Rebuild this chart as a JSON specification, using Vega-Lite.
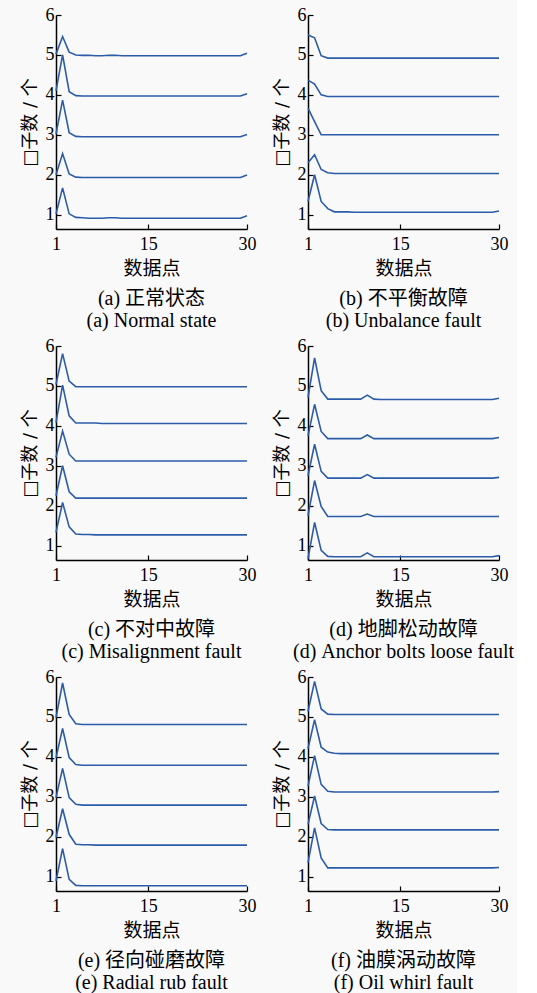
{
"$schema":"https://vega.github.io/schema/vega-lite/v6.json",
"background":"#f9f9f9",
"padding":{"left":21,"top":6,"right":0,"bottom":0},
"bounds":"flush",
"columns":2,
"spacing":{"row":117,"column":61},
"config":{
 "view":{"stroke":null},
 "axis":{"grid":false,"domainColor":"#000","domainWidth":1.5,"tickColor":"#000","tickSize":-5,"tickWidth":1.2,"labelFont":"Liberation Serif","labelFontSize":18,"labelColor":"#000","labelPadding":7,"labelFlush":false,"titleFont":"Liberation Serif, Noto Sans CJK SC","titleFontSize":19,"titleFontWeight":"normal","titleColor":"#000"},
 "axisY":{"titleFontSize":18,"titlePadding":6,"titleFont":"DejaVu Sans, Noto Sans CJK SC"},
 "axisX":{"titlePadding":6,"labelPadding":11},
 "title":{"font":"Liberation Serif, Noto Sans CJK SC","fontSize":20,"fontWeight":"normal","color":"#000","lineHeight":22,"offset":11,"orient":"bottom"}
},
"datasets":{
"a":[
{"line":1,"x":1,"y":1.02},{"line":1,"x":2,"y":1.67},{"line":1,"x":3,"y":1.02},{"line":1,"x":4,"y":0.93},{"line":1,"x":5,"y":0.92},{"line":1,"x":6,"y":0.91},{"line":1,"x":7,"y":0.91},{"line":1,"x":8,"y":0.91},{"line":1,"x":9,"y":0.92},{"line":1,"x":10,"y":0.92},{"line":1,"x":11,"y":0.91},{"line":1,"x":12,"y":0.91},{"line":1,"x":13,"y":0.91},{"line":1,"x":14,"y":0.91},{"line":1,"x":15,"y":0.91},{"line":1,"x":16,"y":0.91},{"line":1,"x":17,"y":0.91},{"line":1,"x":18,"y":0.91},{"line":1,"x":19,"y":0.91},{"line":1,"x":20,"y":0.91},{"line":1,"x":21,"y":0.91},{"line":1,"x":22,"y":0.91},{"line":1,"x":23,"y":0.91},{"line":1,"x":24,"y":0.91},{"line":1,"x":25,"y":0.91},{"line":1,"x":26,"y":0.91},{"line":1,"x":27,"y":0.91},{"line":1,"x":28,"y":0.91},{"line":1,"x":29,"y":0.91},{"line":1,"x":30,"y":0.97},
{"line":2,"x":1,"y":2.0},{"line":2,"x":2,"y":2.53},{"line":2,"x":3,"y":2.02},{"line":2,"x":4,"y":1.94},{"line":2,"x":5,"y":1.93},{"line":2,"x":6,"y":1.93},{"line":2,"x":7,"y":1.93},{"line":2,"x":8,"y":1.93},{"line":2,"x":9,"y":1.93},{"line":2,"x":10,"y":1.93},{"line":2,"x":11,"y":1.93},{"line":2,"x":12,"y":1.93},{"line":2,"x":13,"y":1.93},{"line":2,"x":14,"y":1.93},{"line":2,"x":15,"y":1.93},{"line":2,"x":16,"y":1.93},{"line":2,"x":17,"y":1.93},{"line":2,"x":18,"y":1.93},{"line":2,"x":19,"y":1.93},{"line":2,"x":20,"y":1.93},{"line":2,"x":21,"y":1.93},{"line":2,"x":22,"y":1.93},{"line":2,"x":23,"y":1.93},{"line":2,"x":24,"y":1.93},{"line":2,"x":25,"y":1.93},{"line":2,"x":26,"y":1.93},{"line":2,"x":27,"y":1.93},{"line":2,"x":28,"y":1.93},{"line":2,"x":29,"y":1.93},{"line":2,"x":30,"y":1.99},
{"line":3,"x":1,"y":3.02},{"line":3,"x":2,"y":3.87},{"line":3,"x":3,"y":3.05},{"line":3,"x":4,"y":2.96},{"line":3,"x":5,"y":2.95},{"line":3,"x":6,"y":2.95},{"line":3,"x":7,"y":2.95},{"line":3,"x":8,"y":2.95},{"line":3,"x":9,"y":2.95},{"line":3,"x":10,"y":2.95},{"line":3,"x":11,"y":2.95},{"line":3,"x":12,"y":2.95},{"line":3,"x":13,"y":2.95},{"line":3,"x":14,"y":2.95},{"line":3,"x":15,"y":2.95},{"line":3,"x":16,"y":2.95},{"line":3,"x":17,"y":2.95},{"line":3,"x":18,"y":2.95},{"line":3,"x":19,"y":2.95},{"line":3,"x":20,"y":2.95},{"line":3,"x":21,"y":2.95},{"line":3,"x":22,"y":2.95},{"line":3,"x":23,"y":2.95},{"line":3,"x":24,"y":2.95},{"line":3,"x":25,"y":2.95},{"line":3,"x":26,"y":2.95},{"line":3,"x":27,"y":2.95},{"line":3,"x":28,"y":2.95},{"line":3,"x":29,"y":2.95},{"line":3,"x":30,"y":3.01},
{"line":4,"x":1,"y":4.1},{"line":4,"x":2,"y":5.0},{"line":4,"x":3,"y":4.08},{"line":4,"x":4,"y":3.98},{"line":4,"x":5,"y":3.97},{"line":4,"x":6,"y":3.97},{"line":4,"x":7,"y":3.97},{"line":4,"x":8,"y":3.97},{"line":4,"x":9,"y":3.97},{"line":4,"x":10,"y":3.97},{"line":4,"x":11,"y":3.97},{"line":4,"x":12,"y":3.97},{"line":4,"x":13,"y":3.97},{"line":4,"x":14,"y":3.97},{"line":4,"x":15,"y":3.97},{"line":4,"x":16,"y":3.97},{"line":4,"x":17,"y":3.97},{"line":4,"x":18,"y":3.97},{"line":4,"x":19,"y":3.97},{"line":4,"x":20,"y":3.97},{"line":4,"x":21,"y":3.97},{"line":4,"x":22,"y":3.97},{"line":4,"x":23,"y":3.97},{"line":4,"x":24,"y":3.97},{"line":4,"x":25,"y":3.97},{"line":4,"x":26,"y":3.97},{"line":4,"x":27,"y":3.97},{"line":4,"x":28,"y":3.97},{"line":4,"x":29,"y":3.97},{"line":4,"x":30,"y":4.03},
{"line":5,"x":1,"y":5.02},{"line":5,"x":2,"y":5.46},{"line":5,"x":3,"y":5.07},{"line":5,"x":4,"y":5.0},{"line":5,"x":5,"y":4.99},{"line":5,"x":6,"y":4.99},{"line":5,"x":7,"y":4.98},{"line":5,"x":8,"y":4.98},{"line":5,"x":9,"y":4.99},{"line":5,"x":10,"y":4.99},{"line":5,"x":11,"y":4.98},{"line":5,"x":12,"y":4.98},{"line":5,"x":13,"y":4.98},{"line":5,"x":14,"y":4.98},{"line":5,"x":15,"y":4.98},{"line":5,"x":16,"y":4.98},{"line":5,"x":17,"y":4.98},{"line":5,"x":18,"y":4.98},{"line":5,"x":19,"y":4.98},{"line":5,"x":20,"y":4.98},{"line":5,"x":21,"y":4.98},{"line":5,"x":22,"y":4.98},{"line":5,"x":23,"y":4.98},{"line":5,"x":24,"y":4.98},{"line":5,"x":25,"y":4.98},{"line":5,"x":26,"y":4.98},{"line":5,"x":27,"y":4.98},{"line":5,"x":28,"y":4.98},{"line":5,"x":29,"y":4.98},{"line":5,"x":30,"y":5.04}
],
"b":[
{"line":1,"x":1,"y":1.33},{"line":1,"x":2,"y":2.0},{"line":1,"x":3,"y":1.33},{"line":1,"x":4,"y":1.15},{"line":1,"x":5,"y":1.07},{"line":1,"x":6,"y":1.07},{"line":1,"x":7,"y":1.07},{"line":1,"x":8,"y":1.06},{"line":1,"x":9,"y":1.06},{"line":1,"x":10,"y":1.06},{"line":1,"x":11,"y":1.06},{"line":1,"x":12,"y":1.06},{"line":1,"x":13,"y":1.06},{"line":1,"x":14,"y":1.06},{"line":1,"x":15,"y":1.06},{"line":1,"x":16,"y":1.06},{"line":1,"x":17,"y":1.06},{"line":1,"x":18,"y":1.06},{"line":1,"x":19,"y":1.06},{"line":1,"x":20,"y":1.06},{"line":1,"x":21,"y":1.06},{"line":1,"x":22,"y":1.06},{"line":1,"x":23,"y":1.06},{"line":1,"x":24,"y":1.06},{"line":1,"x":25,"y":1.06},{"line":1,"x":26,"y":1.06},{"line":1,"x":27,"y":1.06},{"line":1,"x":28,"y":1.06},{"line":1,"x":29,"y":1.06},{"line":1,"x":30,"y":1.09},
{"line":2,"x":1,"y":2.3},{"line":2,"x":2,"y":2.5},{"line":2,"x":3,"y":2.13},{"line":2,"x":4,"y":2.05},{"line":2,"x":5,"y":2.03},{"line":2,"x":6,"y":2.03},{"line":2,"x":7,"y":2.03},{"line":2,"x":8,"y":2.03},{"line":2,"x":9,"y":2.03},{"line":2,"x":10,"y":2.03},{"line":2,"x":11,"y":2.03},{"line":2,"x":12,"y":2.03},{"line":2,"x":13,"y":2.03},{"line":2,"x":14,"y":2.03},{"line":2,"x":15,"y":2.03},{"line":2,"x":16,"y":2.03},{"line":2,"x":17,"y":2.03},{"line":2,"x":18,"y":2.03},{"line":2,"x":19,"y":2.03},{"line":2,"x":20,"y":2.03},{"line":2,"x":21,"y":2.03},{"line":2,"x":22,"y":2.03},{"line":2,"x":23,"y":2.03},{"line":2,"x":24,"y":2.03},{"line":2,"x":25,"y":2.03},{"line":2,"x":26,"y":2.03},{"line":2,"x":27,"y":2.03},{"line":2,"x":28,"y":2.03},{"line":2,"x":29,"y":2.03},{"line":2,"x":30,"y":2.03},
{"line":3,"x":1,"y":3.67},{"line":3,"x":2,"y":3.33},{"line":3,"x":3,"y":3.0},{"line":3,"x":4,"y":3.0},{"line":3,"x":5,"y":3.0},{"line":3,"x":6,"y":3.0},{"line":3,"x":7,"y":3.0},{"line":3,"x":8,"y":3.0},{"line":3,"x":9,"y":3.0},{"line":3,"x":10,"y":3.0},{"line":3,"x":11,"y":3.0},{"line":3,"x":12,"y":3.0},{"line":3,"x":13,"y":3.0},{"line":3,"x":14,"y":3.0},{"line":3,"x":15,"y":3.0},{"line":3,"x":16,"y":3.0},{"line":3,"x":17,"y":3.0},{"line":3,"x":18,"y":3.0},{"line":3,"x":19,"y":3.0},{"line":3,"x":20,"y":3.0},{"line":3,"x":21,"y":3.0},{"line":3,"x":22,"y":3.0},{"line":3,"x":23,"y":3.0},{"line":3,"x":24,"y":3.0},{"line":3,"x":25,"y":3.0},{"line":3,"x":26,"y":3.0},{"line":3,"x":27,"y":3.0},{"line":3,"x":28,"y":3.0},{"line":3,"x":29,"y":3.0},{"line":3,"x":30,"y":3.0},
{"line":4,"x":1,"y":4.37},{"line":4,"x":2,"y":4.27},{"line":4,"x":3,"y":4.0},{"line":4,"x":4,"y":3.96},{"line":4,"x":5,"y":3.96},{"line":4,"x":6,"y":3.96},{"line":4,"x":7,"y":3.96},{"line":4,"x":8,"y":3.96},{"line":4,"x":9,"y":3.96},{"line":4,"x":10,"y":3.96},{"line":4,"x":11,"y":3.96},{"line":4,"x":12,"y":3.96},{"line":4,"x":13,"y":3.96},{"line":4,"x":14,"y":3.96},{"line":4,"x":15,"y":3.96},{"line":4,"x":16,"y":3.96},{"line":4,"x":17,"y":3.96},{"line":4,"x":18,"y":3.96},{"line":4,"x":19,"y":3.96},{"line":4,"x":20,"y":3.96},{"line":4,"x":21,"y":3.96},{"line":4,"x":22,"y":3.96},{"line":4,"x":23,"y":3.96},{"line":4,"x":24,"y":3.96},{"line":4,"x":25,"y":3.96},{"line":4,"x":26,"y":3.96},{"line":4,"x":27,"y":3.96},{"line":4,"x":28,"y":3.96},{"line":4,"x":29,"y":3.96},{"line":4,"x":30,"y":3.96},
{"line":5,"x":1,"y":5.5},{"line":5,"x":2,"y":5.43},{"line":5,"x":3,"y":4.98},{"line":5,"x":4,"y":4.92},{"line":5,"x":5,"y":4.92},{"line":5,"x":6,"y":4.92},{"line":5,"x":7,"y":4.92},{"line":5,"x":8,"y":4.92},{"line":5,"x":9,"y":4.92},{"line":5,"x":10,"y":4.92},{"line":5,"x":11,"y":4.92},{"line":5,"x":12,"y":4.92},{"line":5,"x":13,"y":4.92},{"line":5,"x":14,"y":4.92},{"line":5,"x":15,"y":4.92},{"line":5,"x":16,"y":4.92},{"line":5,"x":17,"y":4.92},{"line":5,"x":18,"y":4.92},{"line":5,"x":19,"y":4.92},{"line":5,"x":20,"y":4.92},{"line":5,"x":21,"y":4.92},{"line":5,"x":22,"y":4.92},{"line":5,"x":23,"y":4.92},{"line":5,"x":24,"y":4.92},{"line":5,"x":25,"y":4.92},{"line":5,"x":26,"y":4.92},{"line":5,"x":27,"y":4.92},{"line":5,"x":28,"y":4.92},{"line":5,"x":29,"y":4.92},{"line":5,"x":30,"y":4.92}
],
"c":[
{"line":1,"x":1,"y":1.33},{"line":1,"x":2,"y":2.08},{"line":1,"x":3,"y":1.47},{"line":1,"x":4,"y":1.29},{"line":1,"x":5,"y":1.28},{"line":1,"x":6,"y":1.28},{"line":1,"x":7,"y":1.27},{"line":1,"x":8,"y":1.27},{"line":1,"x":9,"y":1.27},{"line":1,"x":10,"y":1.27},{"line":1,"x":11,"y":1.27},{"line":1,"x":12,"y":1.27},{"line":1,"x":13,"y":1.27},{"line":1,"x":14,"y":1.27},{"line":1,"x":15,"y":1.27},{"line":1,"x":16,"y":1.27},{"line":1,"x":17,"y":1.27},{"line":1,"x":18,"y":1.27},{"line":1,"x":19,"y":1.27},{"line":1,"x":20,"y":1.27},{"line":1,"x":21,"y":1.27},{"line":1,"x":22,"y":1.27},{"line":1,"x":23,"y":1.27},{"line":1,"x":24,"y":1.27},{"line":1,"x":25,"y":1.27},{"line":1,"x":26,"y":1.27},{"line":1,"x":27,"y":1.27},{"line":1,"x":28,"y":1.27},{"line":1,"x":29,"y":1.27},{"line":1,"x":30,"y":1.27},
{"line":2,"x":1,"y":2.25},{"line":2,"x":2,"y":3.0},{"line":2,"x":3,"y":2.35},{"line":2,"x":4,"y":2.19},{"line":2,"x":5,"y":2.19},{"line":2,"x":6,"y":2.19},{"line":2,"x":7,"y":2.19},{"line":2,"x":8,"y":2.19},{"line":2,"x":9,"y":2.19},{"line":2,"x":10,"y":2.19},{"line":2,"x":11,"y":2.19},{"line":2,"x":12,"y":2.19},{"line":2,"x":13,"y":2.19},{"line":2,"x":14,"y":2.19},{"line":2,"x":15,"y":2.19},{"line":2,"x":16,"y":2.19},{"line":2,"x":17,"y":2.19},{"line":2,"x":18,"y":2.19},{"line":2,"x":19,"y":2.19},{"line":2,"x":20,"y":2.19},{"line":2,"x":21,"y":2.19},{"line":2,"x":22,"y":2.19},{"line":2,"x":23,"y":2.19},{"line":2,"x":24,"y":2.19},{"line":2,"x":25,"y":2.19},{"line":2,"x":26,"y":2.19},{"line":2,"x":27,"y":2.19},{"line":2,"x":28,"y":2.19},{"line":2,"x":29,"y":2.19},{"line":2,"x":30,"y":2.19},
{"line":3,"x":1,"y":3.21},{"line":3,"x":2,"y":3.87},{"line":3,"x":3,"y":3.29},{"line":3,"x":4,"y":3.12},{"line":3,"x":5,"y":3.12},{"line":3,"x":6,"y":3.12},{"line":3,"x":7,"y":3.12},{"line":3,"x":8,"y":3.12},{"line":3,"x":9,"y":3.12},{"line":3,"x":10,"y":3.12},{"line":3,"x":11,"y":3.12},{"line":3,"x":12,"y":3.12},{"line":3,"x":13,"y":3.12},{"line":3,"x":14,"y":3.12},{"line":3,"x":15,"y":3.12},{"line":3,"x":16,"y":3.12},{"line":3,"x":17,"y":3.12},{"line":3,"x":18,"y":3.12},{"line":3,"x":19,"y":3.12},{"line":3,"x":20,"y":3.12},{"line":3,"x":21,"y":3.12},{"line":3,"x":22,"y":3.12},{"line":3,"x":23,"y":3.12},{"line":3,"x":24,"y":3.12},{"line":3,"x":25,"y":3.12},{"line":3,"x":26,"y":3.12},{"line":3,"x":27,"y":3.12},{"line":3,"x":28,"y":3.12},{"line":3,"x":29,"y":3.12},{"line":3,"x":30,"y":3.12},
{"line":4,"x":1,"y":4.08},{"line":4,"x":2,"y":5.02},{"line":4,"x":3,"y":4.25},{"line":4,"x":4,"y":4.07},{"line":4,"x":5,"y":4.07},{"line":4,"x":6,"y":4.07},{"line":4,"x":7,"y":4.07},{"line":4,"x":8,"y":4.06},{"line":4,"x":9,"y":4.06},{"line":4,"x":10,"y":4.06},{"line":4,"x":11,"y":4.06},{"line":4,"x":12,"y":4.06},{"line":4,"x":13,"y":4.06},{"line":4,"x":14,"y":4.06},{"line":4,"x":15,"y":4.06},{"line":4,"x":16,"y":4.06},{"line":4,"x":17,"y":4.06},{"line":4,"x":18,"y":4.06},{"line":4,"x":19,"y":4.06},{"line":4,"x":20,"y":4.06},{"line":4,"x":21,"y":4.06},{"line":4,"x":22,"y":4.06},{"line":4,"x":23,"y":4.06},{"line":4,"x":24,"y":4.06},{"line":4,"x":25,"y":4.06},{"line":4,"x":26,"y":4.06},{"line":4,"x":27,"y":4.06},{"line":4,"x":28,"y":4.06},{"line":4,"x":29,"y":4.06},{"line":4,"x":30,"y":4.06},
{"line":5,"x":1,"y":5.04},{"line":5,"x":2,"y":5.81},{"line":5,"x":3,"y":5.12},{"line":5,"x":4,"y":4.98},{"line":5,"x":5,"y":4.98},{"line":5,"x":6,"y":4.98},{"line":5,"x":7,"y":4.98},{"line":5,"x":8,"y":4.98},{"line":5,"x":9,"y":4.98},{"line":5,"x":10,"y":4.98},{"line":5,"x":11,"y":4.98},{"line":5,"x":12,"y":4.98},{"line":5,"x":13,"y":4.98},{"line":5,"x":14,"y":4.98},{"line":5,"x":15,"y":4.98},{"line":5,"x":16,"y":4.98},{"line":5,"x":17,"y":4.98},{"line":5,"x":18,"y":4.98},{"line":5,"x":19,"y":4.98},{"line":5,"x":20,"y":4.98},{"line":5,"x":21,"y":4.98},{"line":5,"x":22,"y":4.98},{"line":5,"x":23,"y":4.98},{"line":5,"x":24,"y":4.98},{"line":5,"x":25,"y":4.98},{"line":5,"x":26,"y":4.98},{"line":5,"x":27,"y":4.98},{"line":5,"x":28,"y":4.98},{"line":5,"x":29,"y":4.98},{"line":5,"x":30,"y":4.98}
],
"d":[
{"line":1,"x":1,"y":0.67},{"line":1,"x":2,"y":1.58},{"line":1,"x":3,"y":0.88},{"line":1,"x":4,"y":0.73},{"line":1,"x":5,"y":0.72},{"line":1,"x":6,"y":0.72},{"line":1,"x":7,"y":0.72},{"line":1,"x":8,"y":0.72},{"line":1,"x":9,"y":0.72},{"line":1,"x":10,"y":0.82},{"line":1,"x":11,"y":0.72},{"line":1,"x":12,"y":0.72},{"line":1,"x":13,"y":0.72},{"line":1,"x":14,"y":0.72},{"line":1,"x":15,"y":0.72},{"line":1,"x":16,"y":0.72},{"line":1,"x":17,"y":0.72},{"line":1,"x":18,"y":0.72},{"line":1,"x":19,"y":0.72},{"line":1,"x":20,"y":0.72},{"line":1,"x":21,"y":0.72},{"line":1,"x":22,"y":0.72},{"line":1,"x":23,"y":0.72},{"line":1,"x":24,"y":0.72},{"line":1,"x":25,"y":0.72},{"line":1,"x":26,"y":0.72},{"line":1,"x":27,"y":0.72},{"line":1,"x":28,"y":0.72},{"line":1,"x":29,"y":0.72},{"line":1,"x":30,"y":0.75},
{"line":2,"x":1,"y":1.75},{"line":2,"x":2,"y":2.63},{"line":2,"x":3,"y":1.98},{"line":2,"x":4,"y":1.73},{"line":2,"x":5,"y":1.73},{"line":2,"x":6,"y":1.73},{"line":2,"x":7,"y":1.73},{"line":2,"x":8,"y":1.73},{"line":2,"x":9,"y":1.73},{"line":2,"x":10,"y":1.79},{"line":2,"x":11,"y":1.73},{"line":2,"x":12,"y":1.73},{"line":2,"x":13,"y":1.73},{"line":2,"x":14,"y":1.73},{"line":2,"x":15,"y":1.73},{"line":2,"x":16,"y":1.73},{"line":2,"x":17,"y":1.73},{"line":2,"x":18,"y":1.73},{"line":2,"x":19,"y":1.73},{"line":2,"x":20,"y":1.73},{"line":2,"x":21,"y":1.73},{"line":2,"x":22,"y":1.73},{"line":2,"x":23,"y":1.73},{"line":2,"x":24,"y":1.73},{"line":2,"x":25,"y":1.73},{"line":2,"x":26,"y":1.73},{"line":2,"x":27,"y":1.73},{"line":2,"x":28,"y":1.73},{"line":2,"x":29,"y":1.73},{"line":2,"x":30,"y":1.73},
{"line":3,"x":1,"y":2.75},{"line":3,"x":2,"y":3.54},{"line":3,"x":3,"y":2.86},{"line":3,"x":4,"y":2.69},{"line":3,"x":5,"y":2.69},{"line":3,"x":6,"y":2.69},{"line":3,"x":7,"y":2.69},{"line":3,"x":8,"y":2.69},{"line":3,"x":9,"y":2.69},{"line":3,"x":10,"y":2.78},{"line":3,"x":11,"y":2.69},{"line":3,"x":12,"y":2.69},{"line":3,"x":13,"y":2.69},{"line":3,"x":14,"y":2.69},{"line":3,"x":15,"y":2.69},{"line":3,"x":16,"y":2.69},{"line":3,"x":17,"y":2.69},{"line":3,"x":18,"y":2.69},{"line":3,"x":19,"y":2.69},{"line":3,"x":20,"y":2.69},{"line":3,"x":21,"y":2.69},{"line":3,"x":22,"y":2.69},{"line":3,"x":23,"y":2.69},{"line":3,"x":24,"y":2.69},{"line":3,"x":25,"y":2.69},{"line":3,"x":26,"y":2.69},{"line":3,"x":27,"y":2.69},{"line":3,"x":28,"y":2.69},{"line":3,"x":29,"y":2.69},{"line":3,"x":30,"y":2.71},
{"line":4,"x":1,"y":3.75},{"line":4,"x":2,"y":4.54},{"line":4,"x":3,"y":3.86},{"line":4,"x":4,"y":3.68},{"line":4,"x":5,"y":3.68},{"line":4,"x":6,"y":3.68},{"line":4,"x":7,"y":3.68},{"line":4,"x":8,"y":3.68},{"line":4,"x":9,"y":3.68},{"line":4,"x":10,"y":3.77},{"line":4,"x":11,"y":3.68},{"line":4,"x":12,"y":3.68},{"line":4,"x":13,"y":3.68},{"line":4,"x":14,"y":3.68},{"line":4,"x":15,"y":3.68},{"line":4,"x":16,"y":3.68},{"line":4,"x":17,"y":3.68},{"line":4,"x":18,"y":3.68},{"line":4,"x":19,"y":3.68},{"line":4,"x":20,"y":3.68},{"line":4,"x":21,"y":3.68},{"line":4,"x":22,"y":3.68},{"line":4,"x":23,"y":3.68},{"line":4,"x":24,"y":3.68},{"line":4,"x":25,"y":3.68},{"line":4,"x":26,"y":3.68},{"line":4,"x":27,"y":3.68},{"line":4,"x":28,"y":3.68},{"line":4,"x":29,"y":3.68},{"line":4,"x":30,"y":3.71},
{"line":5,"x":1,"y":4.71},{"line":5,"x":2,"y":5.7},{"line":5,"x":3,"y":4.88},{"line":5,"x":4,"y":4.67},{"line":5,"x":5,"y":4.67},{"line":5,"x":6,"y":4.67},{"line":5,"x":7,"y":4.67},{"line":5,"x":8,"y":4.67},{"line":5,"x":9,"y":4.67},{"line":5,"x":10,"y":4.77},{"line":5,"x":11,"y":4.67},{"line":5,"x":12,"y":4.66},{"line":5,"x":13,"y":4.66},{"line":5,"x":14,"y":4.66},{"line":5,"x":15,"y":4.66},{"line":5,"x":16,"y":4.66},{"line":5,"x":17,"y":4.66},{"line":5,"x":18,"y":4.66},{"line":5,"x":19,"y":4.66},{"line":5,"x":20,"y":4.66},{"line":5,"x":21,"y":4.66},{"line":5,"x":22,"y":4.66},{"line":5,"x":23,"y":4.66},{"line":5,"x":24,"y":4.66},{"line":5,"x":25,"y":4.66},{"line":5,"x":26,"y":4.66},{"line":5,"x":27,"y":4.66},{"line":5,"x":28,"y":4.66},{"line":5,"x":29,"y":4.66},{"line":5,"x":30,"y":4.69}
],
"e":[
{"line":1,"x":1,"y":0.89},{"line":1,"x":2,"y":1.7},{"line":1,"x":3,"y":0.93},{"line":1,"x":4,"y":0.78},{"line":1,"x":5,"y":0.77},{"line":1,"x":6,"y":0.77},{"line":1,"x":7,"y":0.77},{"line":1,"x":8,"y":0.77},{"line":1,"x":9,"y":0.77},{"line":1,"x":10,"y":0.77},{"line":1,"x":11,"y":0.77},{"line":1,"x":12,"y":0.77},{"line":1,"x":13,"y":0.77},{"line":1,"x":14,"y":0.77},{"line":1,"x":15,"y":0.77},{"line":1,"x":16,"y":0.77},{"line":1,"x":17,"y":0.77},{"line":1,"x":18,"y":0.77},{"line":1,"x":19,"y":0.77},{"line":1,"x":20,"y":0.77},{"line":1,"x":21,"y":0.77},{"line":1,"x":22,"y":0.77},{"line":1,"x":23,"y":0.77},{"line":1,"x":24,"y":0.77},{"line":1,"x":25,"y":0.77},{"line":1,"x":26,"y":0.77},{"line":1,"x":27,"y":0.77},{"line":1,"x":28,"y":0.77},{"line":1,"x":29,"y":0.77},{"line":1,"x":30,"y":0.77},
{"line":2,"x":1,"y":1.98},{"line":2,"x":2,"y":2.7},{"line":2,"x":3,"y":2.06},{"line":2,"x":4,"y":1.81},{"line":2,"x":5,"y":1.8},{"line":2,"x":6,"y":1.8},{"line":2,"x":7,"y":1.79},{"line":2,"x":8,"y":1.79},{"line":2,"x":9,"y":1.79},{"line":2,"x":10,"y":1.79},{"line":2,"x":11,"y":1.79},{"line":2,"x":12,"y":1.79},{"line":2,"x":13,"y":1.79},{"line":2,"x":14,"y":1.79},{"line":2,"x":15,"y":1.79},{"line":2,"x":16,"y":1.79},{"line":2,"x":17,"y":1.79},{"line":2,"x":18,"y":1.79},{"line":2,"x":19,"y":1.79},{"line":2,"x":20,"y":1.79},{"line":2,"x":21,"y":1.79},{"line":2,"x":22,"y":1.79},{"line":2,"x":23,"y":1.79},{"line":2,"x":24,"y":1.79},{"line":2,"x":25,"y":1.79},{"line":2,"x":26,"y":1.79},{"line":2,"x":27,"y":1.79},{"line":2,"x":28,"y":1.79},{"line":2,"x":29,"y":1.79},{"line":2,"x":30,"y":1.79},
{"line":3,"x":1,"y":2.98},{"line":3,"x":2,"y":3.71},{"line":3,"x":3,"y":2.98},{"line":3,"x":4,"y":2.81},{"line":3,"x":5,"y":2.79},{"line":3,"x":6,"y":2.79},{"line":3,"x":7,"y":2.79},{"line":3,"x":8,"y":2.79},{"line":3,"x":9,"y":2.79},{"line":3,"x":10,"y":2.79},{"line":3,"x":11,"y":2.79},{"line":3,"x":12,"y":2.79},{"line":3,"x":13,"y":2.79},{"line":3,"x":14,"y":2.79},{"line":3,"x":15,"y":2.79},{"line":3,"x":16,"y":2.79},{"line":3,"x":17,"y":2.79},{"line":3,"x":18,"y":2.79},{"line":3,"x":19,"y":2.79},{"line":3,"x":20,"y":2.79},{"line":3,"x":21,"y":2.79},{"line":3,"x":22,"y":2.79},{"line":3,"x":23,"y":2.79},{"line":3,"x":24,"y":2.79},{"line":3,"x":25,"y":2.79},{"line":3,"x":26,"y":2.79},{"line":3,"x":27,"y":2.79},{"line":3,"x":28,"y":2.79},{"line":3,"x":29,"y":2.79},{"line":3,"x":30,"y":2.79},
{"line":4,"x":1,"y":3.98},{"line":4,"x":2,"y":4.71},{"line":4,"x":3,"y":3.98},{"line":4,"x":4,"y":3.81},{"line":4,"x":5,"y":3.79},{"line":4,"x":6,"y":3.79},{"line":4,"x":7,"y":3.79},{"line":4,"x":8,"y":3.79},{"line":4,"x":9,"y":3.79},{"line":4,"x":10,"y":3.79},{"line":4,"x":11,"y":3.79},{"line":4,"x":12,"y":3.79},{"line":4,"x":13,"y":3.79},{"line":4,"x":14,"y":3.79},{"line":4,"x":15,"y":3.79},{"line":4,"x":16,"y":3.79},{"line":4,"x":17,"y":3.79},{"line":4,"x":18,"y":3.79},{"line":4,"x":19,"y":3.79},{"line":4,"x":20,"y":3.79},{"line":4,"x":21,"y":3.79},{"line":4,"x":22,"y":3.79},{"line":4,"x":23,"y":3.79},{"line":4,"x":24,"y":3.79},{"line":4,"x":25,"y":3.79},{"line":4,"x":26,"y":3.79},{"line":4,"x":27,"y":3.79},{"line":4,"x":28,"y":3.79},{"line":4,"x":29,"y":3.79},{"line":4,"x":30,"y":3.79},
{"line":5,"x":1,"y":4.98},{"line":5,"x":2,"y":5.85},{"line":5,"x":3,"y":5.06},{"line":5,"x":4,"y":4.83},{"line":5,"x":5,"y":4.81},{"line":5,"x":6,"y":4.81},{"line":5,"x":7,"y":4.81},{"line":5,"x":8,"y":4.81},{"line":5,"x":9,"y":4.81},{"line":5,"x":10,"y":4.81},{"line":5,"x":11,"y":4.81},{"line":5,"x":12,"y":4.81},{"line":5,"x":13,"y":4.81},{"line":5,"x":14,"y":4.81},{"line":5,"x":15,"y":4.81},{"line":5,"x":16,"y":4.81},{"line":5,"x":17,"y":4.81},{"line":5,"x":18,"y":4.81},{"line":5,"x":19,"y":4.81},{"line":5,"x":20,"y":4.81},{"line":5,"x":21,"y":4.81},{"line":5,"x":22,"y":4.81},{"line":5,"x":23,"y":4.81},{"line":5,"x":24,"y":4.81},{"line":5,"x":25,"y":4.81},{"line":5,"x":26,"y":4.81},{"line":5,"x":27,"y":4.81},{"line":5,"x":28,"y":4.81},{"line":5,"x":29,"y":4.81},{"line":5,"x":30,"y":4.81}
],
"f":[
{"line":1,"x":1,"y":1.35},{"line":1,"x":2,"y":2.22},{"line":1,"x":3,"y":1.47},{"line":1,"x":4,"y":1.22},{"line":1,"x":5,"y":1.22},{"line":1,"x":6,"y":1.22},{"line":1,"x":7,"y":1.22},{"line":1,"x":8,"y":1.22},{"line":1,"x":9,"y":1.22},{"line":1,"x":10,"y":1.22},{"line":1,"x":11,"y":1.22},{"line":1,"x":12,"y":1.22},{"line":1,"x":13,"y":1.22},{"line":1,"x":14,"y":1.22},{"line":1,"x":15,"y":1.22},{"line":1,"x":16,"y":1.22},{"line":1,"x":17,"y":1.22},{"line":1,"x":18,"y":1.22},{"line":1,"x":19,"y":1.22},{"line":1,"x":20,"y":1.22},{"line":1,"x":21,"y":1.22},{"line":1,"x":22,"y":1.22},{"line":1,"x":23,"y":1.22},{"line":1,"x":24,"y":1.22},{"line":1,"x":25,"y":1.22},{"line":1,"x":26,"y":1.22},{"line":1,"x":27,"y":1.22},{"line":1,"x":28,"y":1.22},{"line":1,"x":29,"y":1.22},{"line":1,"x":30,"y":1.23},
{"line":2,"x":1,"y":2.31},{"line":2,"x":2,"y":3.02},{"line":2,"x":3,"y":2.33},{"line":2,"x":4,"y":2.18},{"line":2,"x":5,"y":2.17},{"line":2,"x":6,"y":2.17},{"line":2,"x":7,"y":2.17},{"line":2,"x":8,"y":2.17},{"line":2,"x":9,"y":2.17},{"line":2,"x":10,"y":2.17},{"line":2,"x":11,"y":2.17},{"line":2,"x":12,"y":2.17},{"line":2,"x":13,"y":2.17},{"line":2,"x":14,"y":2.17},{"line":2,"x":15,"y":2.17},{"line":2,"x":16,"y":2.17},{"line":2,"x":17,"y":2.17},{"line":2,"x":18,"y":2.17},{"line":2,"x":19,"y":2.17},{"line":2,"x":20,"y":2.17},{"line":2,"x":21,"y":2.17},{"line":2,"x":22,"y":2.17},{"line":2,"x":23,"y":2.17},{"line":2,"x":24,"y":2.17},{"line":2,"x":25,"y":2.17},{"line":2,"x":26,"y":2.17},{"line":2,"x":27,"y":2.17},{"line":2,"x":28,"y":2.17},{"line":2,"x":29,"y":2.17},{"line":2,"x":30,"y":2.17},
{"line":3,"x":1,"y":3.27},{"line":3,"x":2,"y":4.03},{"line":3,"x":3,"y":3.31},{"line":3,"x":4,"y":3.14},{"line":3,"x":5,"y":3.12},{"line":3,"x":6,"y":3.12},{"line":3,"x":7,"y":3.12},{"line":3,"x":8,"y":3.12},{"line":3,"x":9,"y":3.12},{"line":3,"x":10,"y":3.12},{"line":3,"x":11,"y":3.12},{"line":3,"x":12,"y":3.12},{"line":3,"x":13,"y":3.12},{"line":3,"x":14,"y":3.12},{"line":3,"x":15,"y":3.12},{"line":3,"x":16,"y":3.12},{"line":3,"x":17,"y":3.12},{"line":3,"x":18,"y":3.12},{"line":3,"x":19,"y":3.12},{"line":3,"x":20,"y":3.12},{"line":3,"x":21,"y":3.12},{"line":3,"x":22,"y":3.12},{"line":3,"x":23,"y":3.12},{"line":3,"x":24,"y":3.12},{"line":3,"x":25,"y":3.12},{"line":3,"x":26,"y":3.12},{"line":3,"x":27,"y":3.12},{"line":3,"x":28,"y":3.12},{"line":3,"x":29,"y":3.12},{"line":3,"x":30,"y":3.13},
{"line":4,"x":1,"y":4.21},{"line":4,"x":2,"y":4.93},{"line":4,"x":3,"y":4.24},{"line":4,"x":4,"y":4.12},{"line":4,"x":5,"y":4.09},{"line":4,"x":6,"y":4.08},{"line":4,"x":7,"y":4.08},{"line":4,"x":8,"y":4.08},{"line":4,"x":9,"y":4.08},{"line":4,"x":10,"y":4.08},{"line":4,"x":11,"y":4.08},{"line":4,"x":12,"y":4.08},{"line":4,"x":13,"y":4.08},{"line":4,"x":14,"y":4.08},{"line":4,"x":15,"y":4.08},{"line":4,"x":16,"y":4.08},{"line":4,"x":17,"y":4.08},{"line":4,"x":18,"y":4.08},{"line":4,"x":19,"y":4.08},{"line":4,"x":20,"y":4.08},{"line":4,"x":21,"y":4.08},{"line":4,"x":22,"y":4.08},{"line":4,"x":23,"y":4.08},{"line":4,"x":24,"y":4.08},{"line":4,"x":25,"y":4.08},{"line":4,"x":26,"y":4.08},{"line":4,"x":27,"y":4.08},{"line":4,"x":28,"y":4.08},{"line":4,"x":29,"y":4.08},{"line":4,"x":30,"y":4.08},
{"line":5,"x":1,"y":5.14},{"line":5,"x":2,"y":5.89},{"line":5,"x":3,"y":5.2},{"line":5,"x":4,"y":5.07},{"line":5,"x":5,"y":5.06},{"line":5,"x":6,"y":5.06},{"line":5,"x":7,"y":5.06},{"line":5,"x":8,"y":5.06},{"line":5,"x":9,"y":5.06},{"line":5,"x":10,"y":5.06},{"line":5,"x":11,"y":5.06},{"line":5,"x":12,"y":5.06},{"line":5,"x":13,"y":5.06},{"line":5,"x":14,"y":5.06},{"line":5,"x":15,"y":5.06},{"line":5,"x":16,"y":5.06},{"line":5,"x":17,"y":5.06},{"line":5,"x":18,"y":5.06},{"line":5,"x":19,"y":5.06},{"line":5,"x":20,"y":5.06},{"line":5,"x":21,"y":5.06},{"line":5,"x":22,"y":5.06},{"line":5,"x":23,"y":5.06},{"line":5,"x":24,"y":5.06},{"line":5,"x":25,"y":5.06},{"line":5,"x":26,"y":5.06},{"line":5,"x":27,"y":5.06},{"line":5,"x":28,"y":5.06},{"line":5,"x":29,"y":5.06},{"line":5,"x":30,"y":5.06}
]
},
"concat":[
 {"data":{"name":"a"},"width":191,"height":214,"mark":{"type":"line","color":"#2c5ca8","strokeWidth":1.6},
  "encoding":{"x":{"field":"x","type":"quantitative","scale":{"domain":[1,30],"nice":false,"zero":false},"axis":{"values":[1,15,30],"title":"数据点"}},
   "y":{"field":"y","type":"quantitative","scale":{"domain":[0.64,6],"nice":false,"zero":false},"axis":{"values":[1,2,3,4,5,6],"title":"□子数 / 个"}},
   "detail":{"field":"line"}},
  "title":{"text":["(a)  正常状态","(a)  Normal state"]}},
 {"data":{"name":"b"},"width":191,"height":214,"mark":{"type":"line","color":"#2c5ca8","strokeWidth":1.6},
  "encoding":{"x":{"field":"x","type":"quantitative","scale":{"domain":[1,30],"nice":false,"zero":false},"axis":{"values":[1,15,30],"title":"数据点"}},
   "y":{"field":"y","type":"quantitative","scale":{"domain":[0.64,6],"nice":false,"zero":false},"axis":{"values":[1,2,3,4,5,6],"title":"□子数 / 个"}},
   "detail":{"field":"line"}},
  "title":{"text":["(b)  不平衡故障","(b)  Unbalance fault"]}},
 {"data":{"name":"c"},"width":191,"height":214,"mark":{"type":"line","color":"#2c5ca8","strokeWidth":1.6},
  "encoding":{"x":{"field":"x","type":"quantitative","scale":{"domain":[1,30],"nice":false,"zero":false},"axis":{"values":[1,15,30],"title":"数据点"}},
   "y":{"field":"y","type":"quantitative","scale":{"domain":[0.64,6],"nice":false,"zero":false},"axis":{"values":[1,2,3,4,5,6],"title":"□子数 / 个"}},
   "detail":{"field":"line"}},
  "title":{"text":["(c)  不对中故障","(c)  Misalignment fault"]}},
 {"data":{"name":"d"},"width":191,"height":214,"mark":{"type":"line","color":"#2c5ca8","strokeWidth":1.6},
  "encoding":{"x":{"field":"x","type":"quantitative","scale":{"domain":[1,30],"nice":false,"zero":false},"axis":{"values":[1,15,30],"title":"数据点"}},
   "y":{"field":"y","type":"quantitative","scale":{"domain":[0.64,6],"nice":false,"zero":false},"axis":{"values":[1,2,3,4,5,6],"title":"□子数 / 个"}},
   "detail":{"field":"line"}},
  "title":{"text":["(d)  地脚松动故障","(d)  Anchor bolts loose fault"]}},
 {"data":{"name":"e"},"width":191,"height":214,"mark":{"type":"line","color":"#2c5ca8","strokeWidth":1.6},
  "encoding":{"x":{"field":"x","type":"quantitative","scale":{"domain":[1,30],"nice":false,"zero":false},"axis":{"values":[1,15,30],"title":"数据点"}},
   "y":{"field":"y","type":"quantitative","scale":{"domain":[0.64,6],"nice":false,"zero":false},"axis":{"values":[1,2,3,4,5,6],"title":"□子数 / 个"}},
   "detail":{"field":"line"}},
  "title":{"text":["(e)  径向碰磨故障","(e)  Radial rub fault"]}},
 {"data":{"name":"f"},"width":191,"height":214,"mark":{"type":"line","color":"#2c5ca8","strokeWidth":1.6},
  "encoding":{"x":{"field":"x","type":"quantitative","scale":{"domain":[1,30],"nice":false,"zero":false},"axis":{"values":[1,15,30],"title":"数据点"}},
   "y":{"field":"y","type":"quantitative","scale":{"domain":[0.64,6],"nice":false,"zero":false},"axis":{"values":[1,2,3,4,5,6],"title":"□子数 / 个"}},
   "detail":{"field":"line"}},
  "title":{"text":["(f)  油膜涡动故障","(f)  Oil whirl fault"]}}
]
}
